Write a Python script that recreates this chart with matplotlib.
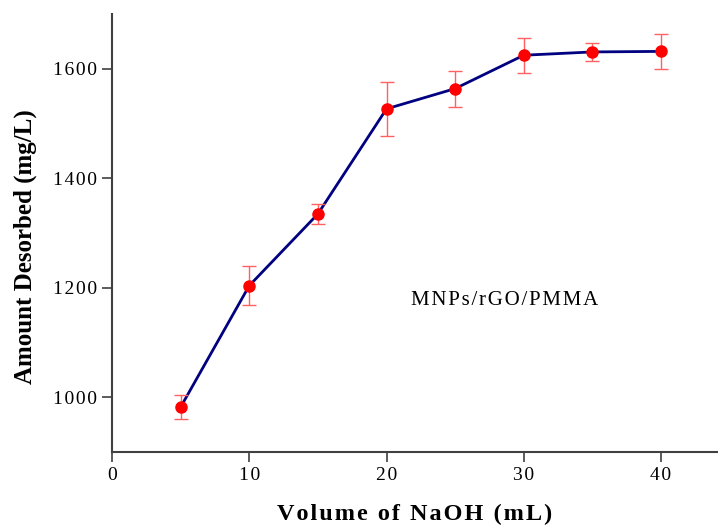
import matplotlib
matplotlib.use("Agg")
import matplotlib.pyplot as plt

volume = [5, 10, 15, 20, 25, 30, 35, 40]
desorbed = [982, 1204, 1335, 1527, 1564, 1625, 1631, 1632]
error = [22, 36, 18, 49, 33, 32, 16, 32]
xticks = [0, 10, 20, 30, 40]
yticks = [1000, 1200, 1400, 1600]

plt.rcParams["font.family"] = ["Liberation Serif", "DejaVu Serif"]

def spaced(s):
    # letter spacing like the original
    return "\u200a".join(s)

fig = plt.figure(figsize=(7.18, 5.25), dpi=100)
ax = fig.add_axes([0.156, 0.139, 0.843, 0.834])

ax.plot(volume, desorbed, c="#000080", lw=2, zorder=2)
ax.errorbar(volume, desorbed, yerr=error, fmt="none", ecolor="#ff6060",
            elinewidth=1, capsize=5, capthick=1, zorder=3)
ax.plot(volume, desorbed, "o", c="red", ms=8, zorder=4)

ax.set_xlim(0, 44.1)
ax.set_ylim(900, 1700)
ax.set_xticks(xticks)
ax.set_xticklabels([spaced(str(v)) for v in xticks])
ax.set_yticks(yticks)
ax.set_yticklabels([spaced(str(v)) for v in yticks])

for side in ["top", "right"]:
    ax.spines[side].set_visible(False)
for side in ["left", "bottom"]:
    ax.spines[side].set_color("#404040")
    ax.spines[side].set_linewidth(1.5)
ax.tick_params(direction="out", length=7, width=1.2, color="#404040",
               labelsize=14, pad=4)

ax.set_xlabel(spaced("Volume of NaOH (mL)"), fontsize=17.5,
              fontweight="bold", labelpad=14)
ax.set_ylabel("Amount Desorbed (mg/L)", fontsize=18, fontweight="bold")
ax.yaxis.set_label_coords(-0.124, 0.468)
ax.text(28.6, 1176, spaced("MNPs/rGO/PMMA"), fontsize=15, ha="center", va="center")

fig.savefig("out.png", dpi=100)
